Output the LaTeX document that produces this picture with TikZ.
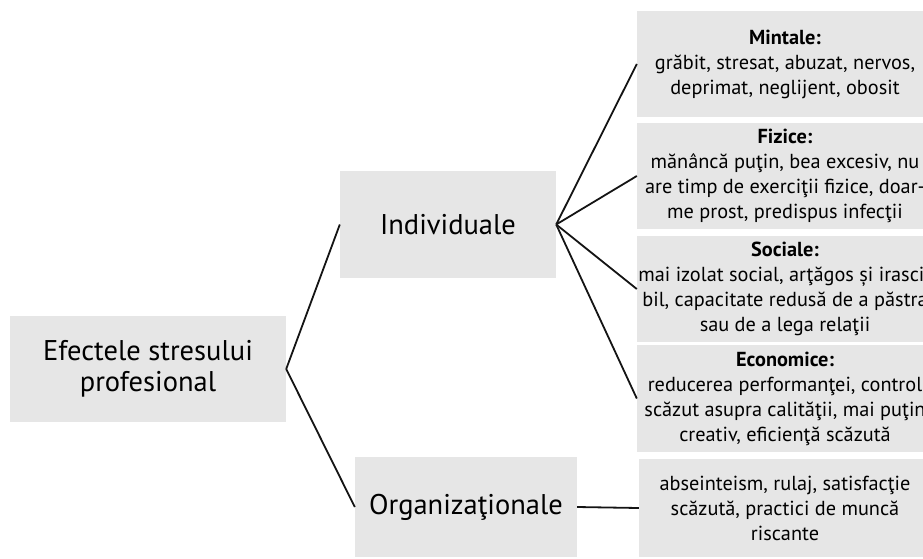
\documentclass[tikz,border=0pt]{standalone}
\usepackage{fontspec}
\setmainfont{PT Sans}
\definecolor{boxgray}{RGB}{230,230,230}
\begin{document}
\begin{tikzpicture}[x=1pt,y=-1pt,
  box/.style={fill=boxgray, inner sep=0pt, align=center},
  big/.style={font=\fontsize{28.5}{31}\selectfont},
  small/.style={font=\fontsize{20.3}{25}\selectfont},
  leaf/.style={box, small, minimum width=296pt, minimum height=106pt},
  conn/.style={line width=1.8pt, draw=black!92}]
\useasboundingbox (0,0) rectangle (923,558);
\node[box,big,minimum width=276pt,minimum height=106pt] (root) at (148,369) {Efectele stresului\\profesional};
\node[box,big,minimum width=216pt,minimum height=107pt] (ind) at (448,224.5) {Individuale};
\node[box,big,minimum width=222pt,minimum height=100pt] (org) at (466,507) {Organizaţionale};
\node[leaf] (mint) at (785,64) {\textbf{Mintale:}\\grăbit, stresat, abuzat, nervos,\\deprimat, neglijent, obosit};
\node[leaf] (fiz) at (785,176) {\textbf{Fizice:}\\mănâncă puţin, bea excesiv, nu\\are timp de exerciţii fizice, doar-\\me prost, predispus infecţii};
\node[leaf] (soc) at (785,289) {\textbf{Sociale:}\\mai izolat social, arţăgos și irasci-\\bil, capacitate redusă de a păstra\\sau de a lega relaţii};
\node[leaf, minimum height=107pt] (eco) at (785,398.5) {\textbf{Economice:}\\reducerea performanţei, control\\scăzut asupra calităţii, mai puţin\\creativ, eficienţă scăzută};
\node[leaf, minimum height=98pt, minimum width=292pt] (orgr) at (785,508) {abseinteism, rulaj, satisfacţie\\scăzută, practici de muncă\\riscante};
\draw[conn] (root.east) -- (ind.west);
\draw[conn] (root.east) -- (org.west);
\draw[conn] (ind.east) -- (mint.west);
\draw[conn] (ind.east) -- (fiz.west);
\draw[conn] (ind.east) -- (soc.west);
\draw[conn] (ind.east) -- (eco.west);
\draw[conn] (org.east) -- (orgr.west);
\end{tikzpicture}
\end{document}
